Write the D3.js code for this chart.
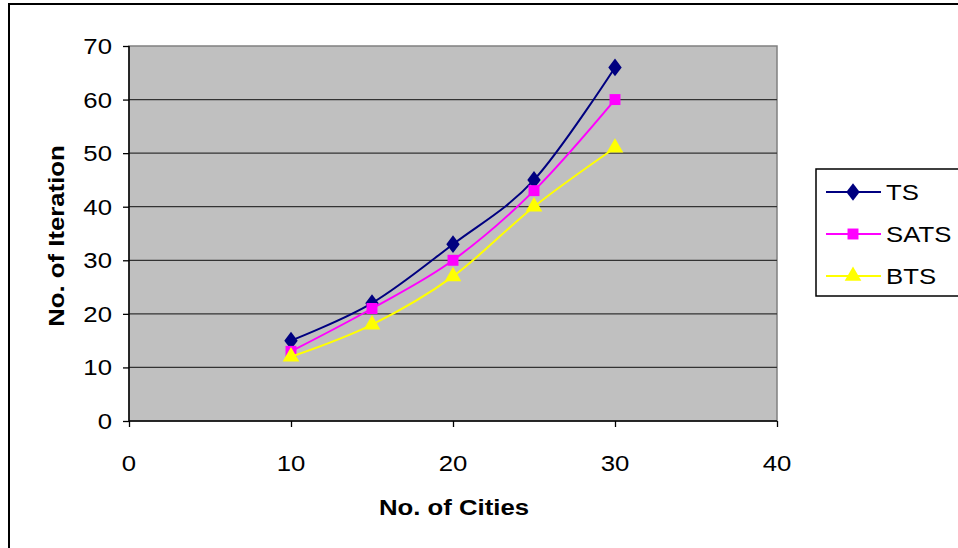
<!DOCTYPE html>
<html><head><meta charset="utf-8">
<script src="https://cdn.jsdelivr.net/npm/d3@7"></script>
<style>body{margin:0;background:#fff}svg{display:block}text{font-family:"Liberation Sans",Arial,sans-serif}</style>
</head><body><svg id="c" width="958" height="548"></svg>
<script>
const cities = [10, 15, 20, 25, 30];
const ts = [15, 22, 33, 45, 66];
const sats = [13, 21, 30, 43, 60];
const bts = [12, 18, 27, 40, 51];
const xTicks = [0, 10, 20, 30, 40];
const yTicks = [0, 10, 20, 30, 40, 50, 60, 70];
const seriesNames = ["TS", "SATS", "BTS"];
const seriesColors = ["#000080", "#ff00ff", "#ffff00"];

const FS = 23, SX = 1.12;
const svg = d3.select("#c");
svg.append("rect").attr("x",9).attr("y",4).attr("width",960).attr("height",560)
  .attr("fill","#fff").attr("stroke","#000").attr("stroke-width",2);

function label(px, py, txt, anchor, bold, rot){
  return svg.append("text")
    .attr("transform",`translate(${px},${py})${rot?" rotate(-90)":""} scale(${SX},1)`)
    .attr("text-anchor",anchor).attr("font-size",FS)
    .attr("font-weight",bold?"bold":"normal").attr("fill","#000").text(txt);
}

const L=129, R=777, T=46, B=421;
const x = d3.scaleLinear().domain([0,40]).range([L,R]);
const y = d3.scaleLinear().domain([0,70]).range([B,T]);

svg.append("rect").attr("x",L).attr("y",T).attr("width",R-L).attr("height",B-T)
  .attr("fill","#c0c0c0").attr("stroke","#808080").attr("stroke-width",1.5);

svg.append("g").selectAll("line").data(yTicks.filter(d=>d>0&&d<70)).join("line")
  .attr("x1",L).attr("x2",R).attr("y1",d=>y(d)).attr("y2",d=>y(d))
  .attr("stroke","#333").attr("stroke-width",1.3);

const yAxis = svg.append("g").attr("transform",`translate(${L},0)`)
  .call(d3.axisLeft(y).tickValues(yTicks).tickSize(6).tickFormat(""));
const xAxis = svg.append("g").attr("transform",`translate(0,${B})`)
  .call(d3.axisBottom(x).tickValues(xTicks).tickSize(6).tickFormat(""));
[yAxis,xAxis].forEach(a=>{
  a.select(".domain").attr("stroke","#000").attr("stroke-width",1.5);
  a.selectAll(".tick line").attr("stroke","#000").attr("stroke-width",1.3);
});
xAxis.select(".domain").attr("d",`M${L},0H${R}`);
yAxis.select(".domain").attr("d",`M0,${B}V${T}`);

yTicks.forEach(v=>label(112, y(v)+8, String(v), "end"));
xTicks.forEach(v=>label(x(v), B+50, String(v), "middle"));

label(454, 515, "No. of Cities", "middle", true);
label(64, 236, "No. of Iteration", "middle", true, true);

const data = [ts, sats, bts];
const line = d3.line().x((d,i)=>x(cities[i])).y(d=>y(d)).curve(d3.curveCatmullRom.alpha(0));
const symbols = [d3.symbolDiamond, d3.symbolSquare, d3.symbolTriangle];
const sizes = [100, 120, 120];

function marker(g, i, cx, cy){
  const sym = d3.symbol().type(symbols[i]).size(sizes[i]);
  let tr = `translate(${cx},${cy})`;
  if(i===0) tr += " scale(1.25,0.95)";
  g.append("path").attr("d",sym()).attr("transform",tr).attr("fill",seriesColors[i]);
}

data.forEach((s,i)=>{
  svg.append("path").datum(s).attr("d",line).attr("fill","none")
    .attr("stroke",seriesColors[i]).attr("stroke-width",2);
  const g = svg.append("g");
  s.forEach((v,j)=>marker(g,i,x(cities[j]),y(v)));
});

// legend
svg.append("rect").attr("x",816).attr("y",169).attr("width",200).attr("height",127)
  .attr("fill","#fff").attr("stroke","#000").attr("stroke-width",1.5);
const ly = [192, 234, 276];
seriesNames.forEach((n,i)=>{
  svg.append("line").attr("x1",826).attr("x2",881).attr("y1",ly[i]).attr("y2",ly[i])
    .attr("stroke",seriesColors[i]).attr("stroke-width",2);
  marker(svg,i,853,ly[i]);
  label(886, ly[i]+8, n, "start");
});
</script></body></html>
